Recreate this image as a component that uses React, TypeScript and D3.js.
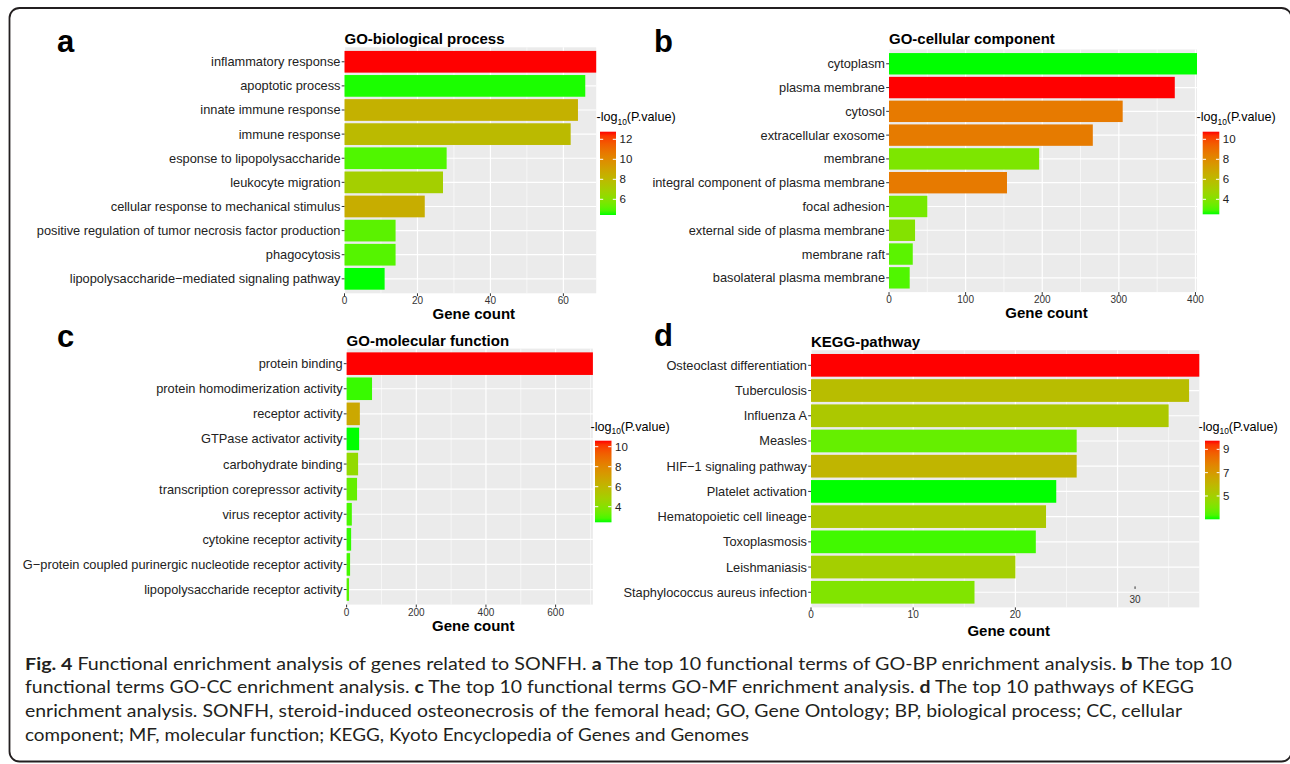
import React, { useEffect } from "react";
import * as d3 from "d3";

// ---------------- data ----------------
const bpTerms = [
  "inflammatory response",
  "apoptotic process",
  "innate immune response",
  "immune response",
  "esponse to lipopolysaccharide",
  "leukocyte migration",
  "cellular response to mechanical stimulus",
  "positive regulation of tumor necrosis factor production",
  "phagocytosis",
  "lipopolysaccharide\u2212mediated signaling pathway",
];
const bpCounts = [69, 66, 64, 62, 28, 27, 22, 14, 14, 11];
const bpLogP = [12.76, 4.5, 8.35, 7.93, 4.93, 6.93, 8.51, 5.1, 5.0, 4.43];
const bpCountTicks = [0, 20, 40, 60];
const bpLegendTicks = [6, 8, 10, 12];

const ccTerms = [
  "cytoplasm",
  "plasma membrane",
  "cytosol",
  "extracellular exosome",
  "membrane",
  "integral component of plasma membrane",
  "focal adhesion",
  "external side of plasma membrane",
  "membrane raft",
  "basolateral plasma membrane",
];
const ccCounts = [402, 373, 305, 266, 196, 154, 50, 34, 31, 27];
const ccLogP = [2.5, 10.76, 8.61, 8.55, 3.82, 8.58, 3.66, 3.99, 3.16, 3.0];
const ccCountTicks = [0, 100, 200, 300, 400];
const ccLegendTicks = [4, 6, 8, 10];

const mfTerms = [
  "protein binding",
  "protein homodimerization activity",
  "receptor activity",
  "GTPase activator activity",
  "carbohydrate binding",
  "transcription corepressor activity",
  "virus receptor activity",
  "cytokine receptor activity",
  "G\u2212protein coupled purinergic nucleotide receptor activity",
  "lipopolysaccharide receptor activity",
];
const mfCounts = [707, 73, 38, 36, 33, 30, 15, 13, 10, 7];
const mfLogP = [10.6, 2.68, 6.68, 2.44, 4.32, 3.26, 2.85, 2.65, 2.8, 3.0];
const mfCountTicks = [0, 200, 400, 600];
const mfLegendTicks = [4, 6, 8, 10];

const keggTerms = [
  "Osteoclast differentiation",
  "Tuberculosis",
  "Influenza A",
  "Measles",
  "HIF\u22121 signaling pathway",
  "Platelet activation",
  "Hematopoietic cell lineage",
  "Toxoplasmosis",
  "Leishmaniasis",
  "Staphylococcus aureus infection",
];
const keggCounts = [38, 37, 35, 26, 26, 24, 23, 22, 20, 16];
const keggLogP = [9.74, 5.7, 5.29, 3.67, 6.03, 3.0, 5.29, 3.27, 5.02, 4.15];
const keggCountTicks = [0, 10, 20];
const keggStrayTick = [30];
const keggLegendTicks = [5, 7, 9];

const captionLines: [string, boolean][][] = [
  [
    ["Fig. 4", true],
    [" Functional enrichment analysis of genes related to SONFH. ", false],
    ["a", true],
    [" The top 10 functional terms of GO-BP enrichment analysis. ", false],
    ["b", true],
    [" The top 10", false],
  ],
  [
    ["functional terms GO-CC enrichment analysis. ", false],
    ["c", true],
    [" The top 10 functional terms GO-MF enrichment analysis. ", false],
    ["d", true],
    [" The top 10 pathways of KEGG", false],
  ],
  [
    [
      "enrichment analysis. SONFH, steroid-induced osteonecrosis of the femoral head; GO, Gene Ontology; BP, biological process; CC, cellular",
      false,
    ],
  ],
  [["component; MF, molecular function; KEGG, Kyoto Encyclopedia of Genes and Genomes", false]],
];

// ---------------- layout ----------------
const FONT = "'Liberation Sans', Arial, Helvetica, sans-serif";
const LOW = "#00ff00";
const HIGH = "#ff0000";

const layouts = {
  a: {
    letter: "a", letterX: 57, letterY: 51.5, title: "GO-biological process", titleY: 43.5,
    x0: 344.5, x1: 596.2, y0: 47.3, y1: 293.3, xTitleY: 318.5,
    leg: { x: 600, y: 131.7, w: 16, h: 83.3, titleX: 596.5, titleY: 121 },
  },
  b: {
    letter: "b", letterX: 654, letterY: 51.5, title: "GO-cellular component", titleY: 43.5,
    x0: 889, x1: 1197, y0: 49.5, y1: 292.1, xTitleY: 318,
    leg: { x: 1202.7, y: 131.7, w: 16.6, h: 82.6, titleX: 1196.5, titleY: 121 },
  },
  c: {
    letter: "c", letterX: 57, letterY: 346.5, title: "GO-molecular function", titleY: 345.5,
    x0: 346.6, x1: 592.9, y0: 348.6, y1: 604.6, xTitleY: 630.5,
    leg: { x: 595, y: 440.7, w: 16.5, h: 81.6, titleX: 590.5, titleY: 430.5 },
  },
  d: {
    letter: "d", letterX: 654, letterY: 346, title: "KEGG-pathway", titleY: 346.5,
    x0: 811, x1: 1199.3, y0: 350.2, y1: 607.4, xTitleY: 636,
    leg: { x: 1205, y: 440.7, w: 14.6, h: 78.6, titleX: 1198.5, titleY: 430.5 },
    stray: { dx: 17.5, dy: -4 },
  },
};

type Layout = (typeof layouts)["a"] & { stray?: { dx: number; dy: number } };

function Panel(props: {
  id: string;
  L: Layout;
  terms: string[];
  counts: number[];
  logp: number[];
  countTicks: number[];
  legendTicks: number[];
  strayTicks?: number[];
}) {
  const { id, L, terms, counts, logp, countTicks, legendTicks, strayTicks } = props;
  const maxC = d3.max(counts) as number;
  const x = d3.scaleLinear().domain([0, maxC]).range([L.x0, L.x1]);
  const y = d3.scalePoint<string>().domain(terms).range([L.y0, L.y1]).padding(0.6);
  const step = y.step();
  const bh = step * 0.9;
  const ext = d3.extent(logp) as [number, number];
  const color = d3
    .scaleLinear<string>()
    .domain(ext)
    .range([LOW, HIGH])
    .interpolate(d3.interpolateLab);

  const tickStep = countTicks[1] - countTicks[0];
  const majors = d3.range(0, maxC + 1e-9, tickStep);
  const minors = d3.range(tickStep / 2, maxC + 1e-9, tickStep);

  const leg = L.leg;
  const ly = d3.scaleLinear().domain(ext).range([leg.y + leg.h, leg.y]);
  const gradId = "grad-" + id;
  const stops = d3.range(0, 1.0001, 0.05);

  const xTitleX = (L.x0 + L.x1) / 2 + 3.5;
  const tickLabelY = L.y1 + 11;

  return (
    <g>
      <defs>
        <linearGradient id={gradId} x1="0" y1="1" x2="0" y2="0">
          {stops.map((s) => (
            <stop key={s} offset={s} stopColor={d3.interpolateLab(LOW, HIGH)(s)} />
          ))}
        </linearGradient>
      </defs>
      <text x={L.letterX} y={L.letterY} fontFamily={FONT} fontWeight="bold" fontSize={31} fill="#000">
        {L.letter}
      </text>
      <text x={L.x0} y={L.titleY} fontFamily={FONT} fontWeight="bold" fontSize={15} fill="#000">
        {L.title}
      </text>
      <rect x={L.x0} y={L.y0} width={L.x1 - L.x0} height={L.y1 - L.y0} fill="#EBEBEB" />
      {minors.map((v) => (
        <line key={"mi" + v} x1={x(v)} x2={x(v)} y1={L.y0} y2={L.y1} stroke="#fff" strokeWidth={0.6} />
      ))}
      {majors.map((v) => (
        <line key={"ma" + v} x1={x(v)} x2={x(v)} y1={L.y0} y2={L.y1} stroke="#fff" strokeWidth={1.2} />
      ))}
      {terms.map((t) => (
        <line key={"h" + t} x1={L.x0} x2={L.x1} y1={y(t)} y2={y(t)} stroke="#fff" strokeWidth={1.2} />
      ))}
      {terms.map((t, i) => (
        <rect
          key={"b" + t}
          x={x(0)}
          y={(y(t) as number) - bh / 2}
          width={x(counts[i]) - x(0)}
          height={bh}
          fill={color(logp[i])}
        />
      ))}
      {terms.map((t) => (
        <g key={"yl" + t}>
          <line x1={L.x0 - 2.8} x2={L.x0} y1={y(t)} y2={y(t)} stroke="#333" strokeWidth={1} />
          <text
            x={L.x0 - 4}
            y={y(t)}
            dy="0.35em"
            textAnchor="end"
            fontFamily={FONT}
            fontSize={12.8}
            fill="#222"
          >
            {t}
          </text>
        </g>
      ))}
      {countTicks.map((v) => (
        <g key={"xt" + v}>
          <line x1={x(v)} x2={x(v)} y1={L.y1} y2={L.y1 + 2.8} stroke="#333" strokeWidth={1} />
          <text x={x(v)} y={tickLabelY} textAnchor="middle" fontFamily={FONT} fontSize={10} fill="#333">
            {v}
          </text>
        </g>
      ))}
      {strayTicks &&
        L.stray &&
        strayTicks.map((v) => (
          <g key={"st" + v}>
            <line
              x1={x(v) + L.stray!.dx}
              x2={x(v) + L.stray!.dx}
              y1={L.y1 + L.stray!.dy - 17}
              y2={L.y1 + L.stray!.dy - 14.5}
              stroke="#333"
              strokeWidth={1}
            />
            <text
              x={x(v) + L.stray!.dx}
              y={L.y1 + L.stray!.dy}
              textAnchor="middle"
              fontFamily={FONT}
              fontSize={10}
              fill="#333"
            >
              {v}
            </text>
          </g>
        ))}
      <text x={xTitleX} y={L.xTitleY} textAnchor="middle" fontFamily={FONT} fontWeight="bold" fontSize={15} fill="#000">
        Gene count
      </text>
      <text x={leg.titleX} y={leg.titleY} fontFamily={FONT} fontSize={12.6} fill="#000">
        -log
        <tspan fontSize={8.4} dy={3.5}>
          10
        </tspan>
        <tspan dy={-3.5}>(P.value)</tspan>
      </text>
      <rect x={leg.x} y={leg.y} width={leg.w} height={leg.h} fill={`url(#${gradId})`} />
      {legendTicks.map((v) => (
        <g key={"lt" + v}>
          <line x1={leg.x} x2={leg.x + leg.w / 5} y1={ly(v)} y2={ly(v)} stroke="#fff" strokeWidth={1} />
          <line x1={leg.x + leg.w - leg.w / 5} x2={leg.x + leg.w} y1={ly(v)} y2={ly(v)} stroke="#fff" strokeWidth={1} />
          <text
            x={leg.x + leg.w + 3.5}
            y={ly(v)}
            dy="0.35em"
            fontFamily={FONT}
            fontSize={11.5}
            fill="#222"
          >
            {v}
          </text>
        </g>
      ))}
    </g>
  );
}

const captionLayout = { x: 25, y0: 669.5, lineH: 23.8, widths: [1207, 1169, 1157, 724] };

export default function App() {
  useEffect(() => {
    document.body.style.margin = "0";
  }, []);
  return (
    <svg
      width={1290}
      height={764}
      viewBox="0 0 1290 764"
      style={{ position: "absolute", left: 0, top: 0, display: "block", background: "#fff" }}
    >
      <rect x={0} y={0} width={1290} height={764} fill="#fff" />
      <rect x={9.5} y={8} width={1282} height={753.5} rx={10} ry={10} fill="none" stroke="#231f20" strokeWidth={1.8} />
      <Panel id="a" L={layouts.a as Layout} terms={bpTerms} counts={bpCounts} logp={bpLogP} countTicks={bpCountTicks} legendTicks={bpLegendTicks} />
      <Panel id="b" L={layouts.b as Layout} terms={ccTerms} counts={ccCounts} logp={ccLogP} countTicks={ccCountTicks} legendTicks={ccLegendTicks} />
      <Panel id="c" L={layouts.c as Layout} terms={mfTerms} counts={mfCounts} logp={mfLogP} countTicks={mfCountTicks} legendTicks={mfLegendTicks} />
      <Panel
        id="d"
        L={layouts.d as Layout}
        terms={keggTerms}
        counts={keggCounts}
        logp={keggLogP}
        countTicks={keggCountTicks}
        legendTicks={keggLegendTicks}
        strayTicks={keggStrayTick}
      />
      {captionLines.map((segs, i) => (
        <text
          key={"cap" + i}
          x={captionLayout.x}
          y={captionLayout.y0 + i * captionLayout.lineH}
          fontFamily="Lato, 'Noto Sans', sans-serif"
          fontSize={17}
          fill="#231f20"
          textLength={captionLayout.widths[i]}
          lengthAdjust="spacingAndGlyphs"
          style={{ whiteSpace: "pre" }}
        >
          {segs.map(([s, b], j) => (
            <tspan key={j} fontWeight={b ? "bold" : "normal"}>
              {s}
            </tspan>
          ))}
        </text>
      ))}
    </svg>
  );
}
